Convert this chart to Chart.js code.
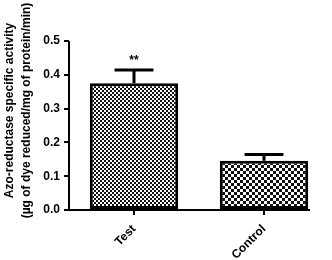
<html lang="en">
<head>
  <meta charset="UTF-8">
  <title>Azo-reductase</title>
  <style>
    html, body { margin: 0; padding: 0; background: #fff; }
    #wrap { width: 332px; height: 260px; }
  </style>
</head>
<body>
<div id="wrap"><canvas id="azoChart" width="332" height="260"></canvas></div>
<script src="https://cdn.jsdelivr.net/npm/chart.js@4.4.1/dist/chart.umd.min.js"></script>
<script>
  const categories = ['Test', 'Control'];
  const activity = [0.375, 0.146];
  const errorUp = [0.039, 0.018];
  const marks = ['**', ''];
  const yTicks = [0, 0.1, 0.2, 0.3, 0.4, 0.5];
  const yTitle = ['Azo-reductase specific activity', '(µg of dye reduced/mg of protein/min)'];

  // checker fill like the GraphPad bars
  function checker(cell) {
    const c = document.createElement('canvas');
    c.width = c.height = cell * 2;
    const g = c.getContext('2d');
    g.fillStyle = '#fff';
    g.fillRect(0, 0, cell * 2, cell * 2);
    g.fillStyle = '#111';
    g.fillRect(0, 0, cell, cell);
    g.fillRect(cell, cell, cell, cell);
    return g.createPattern(c, 'repeat');
  }

  const fontFamily = 'Liberation Sans, Arial, sans-serif';
  const font = { family: fontFamily, size: 12, weight: 'bold' };

  const extras = {
    id: 'extras',
    afterDatasetsDraw(chart) {
      const ctx = chart.ctx;
      const y = chart.scales.y;
      const a = chart.chartArea;
      const meta = chart.getDatasetMeta(0);
      ctx.save();
      ctx.strokeStyle = '#000';
      ctx.fillStyle = '#000';
      ctx.lineWidth = 3;
      meta.data.forEach((bar, i) => {
        const top = y.getPixelForValue(activity[i] + errorUp[i]);
        const half = bar.width * 0.22;
        ctx.beginPath();
        ctx.moveTo(bar.x, bar.y);
        ctx.lineTo(bar.x, top);
        ctx.moveTo(bar.x - half, top);
        ctx.lineTo(bar.x + half, top);
        ctx.stroke();
        if (marks[i]) {
          ctx.font = 'bold 12px ' + fontFamily;
          ctx.textAlign = 'center';
          ctx.textBaseline = 'bottom';
          ctx.fillText(marks[i], bar.x, top - 3);
        }
      });
      // axis lines (x axis stops short of the right edge)
      ctx.lineWidth = 2;
      ctx.beginPath();
      ctx.moveTo(a.left, a.top);
      ctx.lineTo(a.left, a.bottom);
      ctx.moveTo(a.left - 4, a.bottom);
      ctx.lineTo(a.right - 19, a.bottom);
      ctx.stroke();
      // y axis title, sits a little above the axis middle as in the figure
      ctx.font = 'bold 12px ' + fontFamily;
      ctx.textAlign = 'center';
      ctx.textBaseline = 'middle';
      const cy = (a.top + a.bottom) / 2 - 15;
      yTitle.forEach((line, i) => {
        ctx.save();
        ctx.translate(10 + i * 17, cy);
        ctx.rotate(-Math.PI / 2);
        ctx.fillText(line, 0, 0);
        ctx.restore();
      });
      ctx.restore();
    }
  };

  new Chart(document.getElementById('azoChart'), {
    type: 'bar',
    data: {
      labels: categories,
      datasets: [{
        data: activity,
        backgroundColor: [checker(2), checker(3)],
        borderColor: '#000',
        borderWidth: 3,
        borderSkipped: false,
        categoryPercentage: 1,
        barPercentage: 0.68
      }]
    },
    options: {
      responsive: false,
      animation: false,
      layout: { padding: { top: 41, right: 3, left: 0, bottom: 0 } },
      plugins: { legend: { display: false }, tooltip: { enabled: false } },
      scales: {
        x: {
          border: { display: false },
          grid: { display: true, offset: false, drawOnChartArea: false, tickLength: 5, tickColor: '#000', lineWidth: 2 },
          ticks: { color: '#000', font: font, minRotation: 45, maxRotation: 45, padding: 7 },
          afterFit(s) { s.height = 50; }
        },
        y: {
          min: 0,
          max: 0.5,
          border: { display: false },
          grid: { drawOnChartArea: false, tickLength: 5, tickColor: '#000', lineWidth: 2 },
          afterBuildTicks(s) { s.ticks = yTicks.map(v => ({ value: v })); },
          ticks: { color: '#000', font: font, padding: 4, callback: v => v.toFixed(1) },
          afterFit(s) { s.width = 69; }
        }
      }
    },
    plugins: [extras]
  });
</script>
</body>
</html>
